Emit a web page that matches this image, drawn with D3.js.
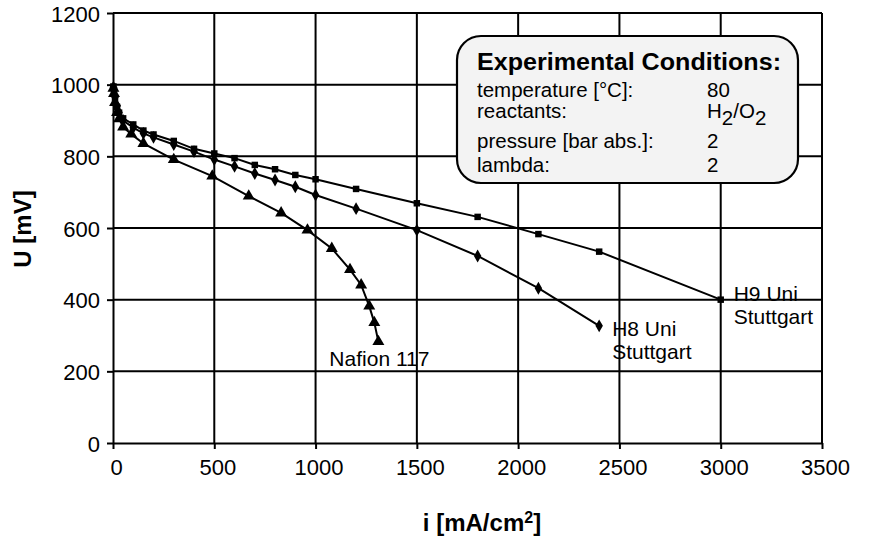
<!DOCTYPE html>
<html><head><meta charset="utf-8">
<script src="https://cdn.jsdelivr.net/npm/d3@7"></script>
<style>
body{margin:0;background:#fff}
svg{display:block}
text{font-family:"Liberation Sans",Arial,Helvetica,sans-serif;fill:#000}
</style>
</head><body>
<svg id="c" width="872" height="541"></svg>
<script>
// ---- data ----
const xTicks = [0, 500, 1000, 1500, 2000, 2500, 3000, 3500];
const yTicks = [0, 200, 400, 600, 800, 1000, 1200];

const h9I = [2, 5, 10, 20, 30, 50, 100, 150, 200, 300, 400, 500, 600, 700, 800, 900, 1000, 1200, 1500, 1800, 2100, 2400, 3000];
const h9U = [995, 985, 962, 938, 922, 906, 889, 872, 861, 843, 821, 808, 795, 776, 764, 748, 736, 709, 669, 631, 583, 534, 400];

const h8I = [2, 5, 10, 20, 30, 50, 100, 150, 200, 300, 400, 500, 600, 700, 800, 900, 1000, 1200, 1500, 1800, 2100, 2400];
const h8U = [992, 985, 965, 940, 922, 900, 880, 864, 853, 833, 813, 791, 772, 752, 734, 715, 692, 654, 594, 522, 432, 327];

const nafI = [2, 5, 10, 20, 30, 50, 90, 150, 300, 490, 670, 830, 960, 1080, 1170, 1225, 1265, 1290, 1310];
const nafU = [990, 975, 950, 922, 905, 882, 862, 836, 791, 745, 689, 642, 594, 543, 484, 441, 382, 336, 283];

const condLabels = ["temperature [°C]:", "reactants:", "pressure [bar abs.]:", "lambda:"];
const condValues = ["80", "H2/O2", "2", "2"];

// ---- scales ----
const svg = d3.select("#c");
const x = d3.scaleLinear().domain([0, 3500]).range([113, 822]);
const y = d3.scaleLinear().domain([0, 1200]).range([443, 13]);

// grid
const g = svg.append("g");
g.selectAll(".vg").data(xTicks.slice(1)).join("line")
  .attr("x1", d => x(d)).attr("x2", d => x(d))
  .attr("y1", y(0)).attr("y2", y(1200))
  .attr("stroke", "#000").attr("stroke-width", 2);
g.selectAll(".hg").data(yTicks.slice(1)).join("line")
  .attr("x1", x(0)).attr("x2", x(3500))
  .attr("y1", d => y(d)).attr("y2", d => y(d))
  .attr("stroke", "#000").attr("stroke-width", 2);

// legend box
const box = svg.append("g");
box.append("rect").attr("x", 457).attr("y", 36).attr("width", 341).attr("height", 147)
  .attr("rx", 24).attr("ry", 24)
  .attr("fill", "#f3f3f3").attr("stroke", "#000").attr("stroke-width", 2.2);
box.append("text").attr("x", 477).attr("y", 70)
  .attr("font-size", 23).attr("font-weight", "bold")
  .attr("textLength", 304).attr("lengthAdjust", "spacingAndGlyphs")
  .text("Experimental Conditions:");
const rowY = [96.5, 118, 147.5, 171.5];
condLabels.forEach((t, i) => {
  box.append("text").attr("x", 477).attr("y", rowY[i]).attr("font-size", 20.5).text(t);
});
condValues.forEach((t, i) => {
  const tx = box.append("text").attr("x", 707).attr("y", rowY[i]).attr("font-size", 20.5);
  if (t === "H2/O2") {
    tx.append("tspan").text("H");
    tx.append("tspan").attr("dy", 7).text("2");
    tx.append("tspan").attr("dy", -7).text("/O");
    tx.append("tspan").attr("dy", 7).text("2");
  } else tx.text(t);
});

// axes
const ax = svg.append("g").attr("transform", `translate(0,${y(0)})`)
  .call(d3.axisBottom(x).tickValues(xTicks).tickSize(6).tickSizeOuter(0).tickFormat(d3.format("d")));
ax.select(".domain").attr("stroke-width", 2);
ax.selectAll(".tick line").attr("stroke-width", 2);
ax.selectAll(".tick text").attr("font-size", 22).attr("font-family", "Liberation Sans, Arial, sans-serif")
  .attr("text-anchor", "middle").attr("x", 3).attr("y", 32).attr("dy", 0).attr("fill", "#000");

const ay = svg.append("g").attr("transform", `translate(${x(0)},0)`)
  .call(d3.axisLeft(y).tickValues(yTicks).tickSize(6).tickSizeOuter(0).tickFormat(d3.format("d")));
ay.select(".domain").attr("stroke-width", 2);
ay.selectAll(".tick line").attr("stroke-width", 2);
ay.selectAll(".tick text").attr("font-size", 22).attr("font-family", "Liberation Sans, Arial, sans-serif")
  .attr("x", -13).attr("dy", 8).attr("fill", "#000");

// axis titles
const xt = svg.append("text").attr("x", 482).attr("y", 531).attr("text-anchor", "middle")
  .attr("font-size", 24).attr("font-weight", "bold");
xt.append("tspan").text("i [mA/cm");
xt.append("tspan").attr("dy", -8).attr("font-size", 16).text("2");
xt.append("tspan").attr("dy", 8).text("]");

svg.append("text").attr("transform", "translate(31,229) rotate(-90)")
  .attr("text-anchor", "middle").attr("font-size", 24).attr("font-weight", "bold").text("U [mV]");

// curves
const line = d3.line().x(d => x(d[0])).y(d => y(d[1]));
const series = [
  { pts: d3.zip(h9I, h9U), sym: d3.symbolSquare, size: 42 },
  { pts: d3.zip(h8I, h8U), sym: d3.symbolDiamond, size: 48 },
  { pts: d3.zip(nafI, nafU), sym: d3.symbolTriangle, size: 62 }
];
series.forEach(s => {
  svg.append("path").attr("d", line(s.pts)).attr("fill", "none")
    .attr("stroke", "#000").attr("stroke-width", 2);
  svg.append("g").selectAll("path").data(s.pts).join("path")
    .attr("transform", d => `translate(${x(d[0])},${y(d[1])})`)
    .attr("d", d3.symbol().type(s.sym).size(s.size)).attr("fill", "#000");
});

// curve labels
function lbl(lines, px, py) {
  lines.forEach((t, i) => svg.append("text").attr("x", px).attr("y", py + i * 23.5)
    .attr("font-size", 21).text(t));
}
lbl(["Nafion 117"], x(nafI[nafI.length - 1]) - 49, y(nafU[nafU.length - 1]) + 24);
lbl(["H8 Uni", "Stuttgart"], x(h8I[h8I.length - 1]) + 13, y(h8U[h8U.length - 1]) + 10);
lbl(["H9 Uni", "Stuttgart"], x(h9I[h9I.length - 1]) + 13, y(h9U[h9U.length - 1]) + 1);
</script>
</body></html>
